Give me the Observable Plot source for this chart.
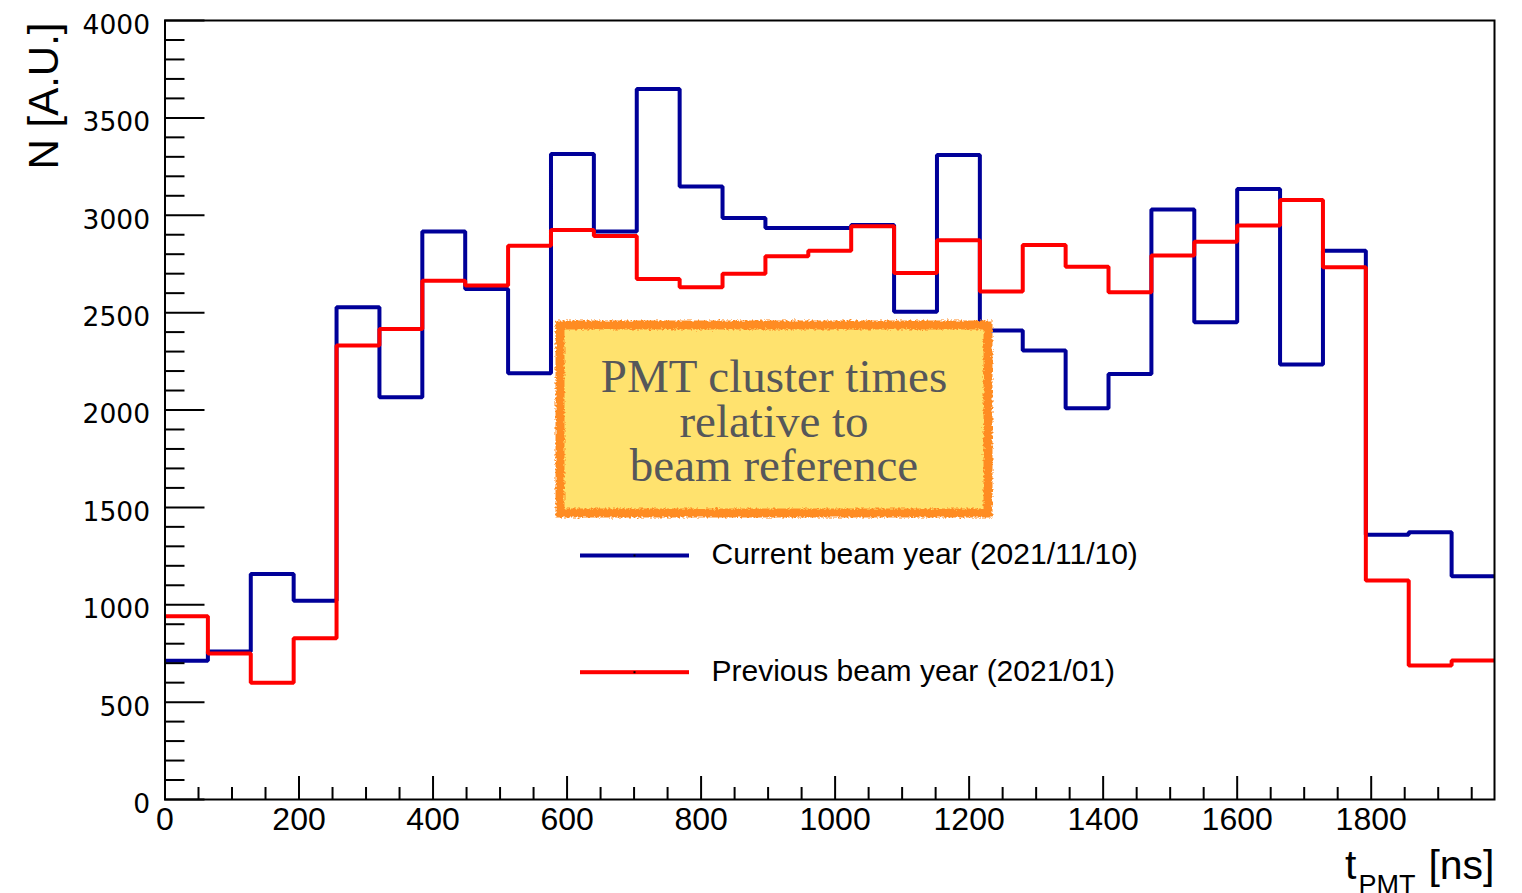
<!DOCTYPE html>
<html>
<head>
<meta charset="utf-8">
<script src="https://cdn.jsdelivr.net/npm/d3@7"></script>
<script src="https://cdn.jsdelivr.net/npm/@observablehq/plot@0.6"></script>
<style>
  html, body { margin: 0; padding: 0; background: #fff; }
  svg { display: block; }
</style>
</head>
<body>
<div id="chart"></div>
<script>
// ---------------- data ----------------
const binEdges = [0, 64, 128, 192, 256, 320, 384, 448, 512, 576, 640, 704, 768, 832, 896, 960,
  1024, 1088, 1152, 1216, 1280, 1344, 1408, 1472, 1536, 1600, 1664, 1728, 1792, 1856, 1920, 1984];

const currentCounts = [713, 760, 1158, 1021, 2527, 2065, 2917, 2621, 2189, 3315, 2916, 3648, 3148, 2986,
  2935, 2935, 2950, 2505, 3310, 2408, 2305, 2009, 2185, 3029, 2450, 3135, 2233, 2818, 1359, 1372, 1146];

const previousCounts = [941, 750, 599, 828, 2331, 2416, 2664, 2639, 2844, 2924, 2893, 2673, 2630, 2699,
  2789, 2818, 2943, 2703, 2871, 2608, 2847, 2736, 2604, 2793, 2864, 2947, 3078, 2733, 1124, 688, 714];

const seriesNames = ["Current beam year (2021/11/10)", "Previous beam year (2021/01)"];
const seriesColors = ["#000099", "#ff0000"];

const xTickValues = [0, 200, 400, 600, 800, 1000, 1200, 1400, 1600, 1800];
const xMinorTicks = [50, 100, 150, 250, 300, 350, 450, 500, 550, 650, 700, 750, 850, 900, 950,
  1050, 1100, 1150, 1250, 1300, 1350, 1450, 1500, 1550, 1650, 1700, 1750, 1850, 1900, 1950];
const yTickValues = [0, 500, 1000, 1500, 2000, 2500, 3000, 3500, 4000];
const yMinorTicks = [100, 200, 300, 400, 600, 700, 800, 900, 1100, 1200, 1300, 1400, 1600, 1700, 1800, 1900,
  2100, 2200, 2300, 2400, 2600, 2700, 2800, 2900, 3100, 3200, 3300, 3400, 3600, 3700, 3800, 3900];

const noteLines = ["PMT cluster times", "relative to", "beam reference"];
const yTitle = "N [A.U.]";
const xTitleMain = "t";
const xTitleSub = "PMT";
const xTitleUnit = "[ns]";

// ---------------- layout ----------------
const W = 1522, H = 893;
const mL = 164.5, mR = 28, mT = 20, mB = 94;
const plotW = W - mL - mR, plotH = H - mT - mB;

function stepRows(values) {
  const rows = values.map((v, i) => ({x: binEdges[i], v}));
  rows.push({x: binEdges[values.length], v: values[values.length - 1]});
  return rows;
}

const histStyle = {x: "x", y: "v", curve: "step-after", strokeWidth: 4, strokeLinejoin: "miter", strokeLinecap: "butt"};

// legend geometry (pixels)
const legendLineLeft = 579.5, legendLineRight = 688.5;
const legendCenters = [555, 671.7];
const legendTextX = 711;
const legendBaselineOffset = 8.3;

// note box geometry (pixels)
const boxL = 559.5, boxR = 987.5, boxT = 324.5, boxB = 512.5;
const noteCenterX = 773.5, noteFirstBaseline = 391.7, noteLineStep = 44.5;

const marks = [
  Plot.line(stepRows(currentCounts), {...histStyle, stroke: seriesColors[0]}),
  Plot.line(stepRows(previousCounts), {...histStyle, stroke: seriesColors[1]}),

  // note box
  Plot.frame({
    fill: "#ffe26e", stroke: "#ff8c22", strokeWidth: 9, ariaLabel: "note-box",
    insetLeft: boxL - mL, insetRight: (W - mR) - boxR, insetTop: boxT - mT, insetBottom: (H - mB) - boxB
  }),
  ...noteLines.map((t, i) => Plot.text([t], {
    text: d => d, frameAnchor: "top-left", textAnchor: "middle", lineAnchor: "bottom",
    dx: noteCenterX - mL, dy: noteFirstBaseline + i * noteLineStep - mT,
    fontSize: 47, fontFamily: "Liberation Serif, Times New Roman, serif", fill: "#56575a"
  })),

  // legend
  ...seriesNames.flatMap((name, i) => [
    Plot.frame({
      fill: seriesColors[i], stroke: "none",
      insetLeft: legendLineLeft - mL, insetRight: (W - mR) - legendLineRight,
      insetTop: legendCenters[i] - 2 - mT, insetBottom: (H - mB) - (legendCenters[i] + 2)
    }),
    Plot.frame({
      fill: "black", stroke: "none",
      insetLeft: 633 - mL, insetRight: (W - mR) - 635,
      insetTop: legendCenters[i] - 1 - mT, insetBottom: (H - mB) - (legendCenters[i] + 1)
    }),
    Plot.text([name], {
      text: d => d, frameAnchor: "top-left", textAnchor: "start", lineAnchor: "bottom",
      dx: legendTextX - mL, dy: legendCenters[i] + legendBaselineOffset - mT,
      fontSize: 30, fill: "black"
    })
  ]),

  // ticks (inside, ROOT style)
  Plot.tickY(yTickValues, {y: d => d, stroke: "black", strokeWidth: 2, insetRight: plotW - 40}),
  Plot.tickY(yMinorTicks, {y: d => d, stroke: "black", strokeWidth: 2, insetRight: plotW - 20}),
  Plot.tickX(xTickValues, {x: d => d, stroke: "black", strokeWidth: 2, insetTop: plotH - 23}),
  Plot.tickX(xMinorTicks, {x: d => d, stroke: "black", strokeWidth: 2, insetTop: plotH - 12}),
  Plot.frame({stroke: "black", strokeWidth: 2}),

  // tick labels
  Plot.axisX(xTickValues, {tickSize: 0, tickPadding: 8, fontSize: 32, label: null, tickFormat: d => `${d}`}),
  Plot.axisY(yTickValues, {tickSize: 0, tickPadding: 15, fontSize: 26.5, fontFamily: "DejaVu Sans, sans-serif",
    dy: 5, label: null, tickFormat: d => `${d}`}),

  // axis titles
  Plot.text([yTitle], {
    text: d => d, frameAnchor: "top-left", rotate: -90, textAnchor: "end", lineAnchor: "bottom",
    dx: 57 - mL, dy: 2, fontSize: 42, fill: "black"
  }),
  Plot.text([xTitleMain], {
    text: d => d, frameAnchor: "bottom-right", textAnchor: "start", lineAnchor: "bottom",
    dx: 1344.5 - (W - mR), dy: 878 - (H - mB), fontSize: 41, fill: "black"
  }),
  Plot.text([xTitleSub], {
    text: d => d, frameAnchor: "bottom-right", textAnchor: "start", lineAnchor: "bottom",
    dx: 1358 - (W - mR), dy: 893 - (H - mB), fontSize: 27, fill: "black"
  }),
  Plot.text([xTitleUnit], {
    text: d => d, frameAnchor: "bottom-right", textAnchor: "end", lineAnchor: "bottom",
    dx: 0, dy: 878 - (H - mB), fontSize: 41, fill: "black"
  })
];

const chart = Plot.plot({
  width: W, height: H,
  marginLeft: mL, marginRight: mR, marginTop: mT, marginBottom: mB,
  x: {type: "linear", domain: [binEdges[0], binEdges[binEdges.length - 1]]},
  y: {type: "linear", domain: [yTickValues[0], yTickValues[yTickValues.length - 1]]},
  style: {fontFamily: "Liberation Sans, Arial, Helvetica, sans-serif", background: "white", color: "black", overflow: "visible"},
  marks
});

// rough, hand-drawn border for the note box
const svg = d3.select(chart);
const defs = svg.insert("defs", ":first-child");
const f = defs.append("filter").attr("id", "rough")
  .attr("x", "-5%").attr("y", "-10%").attr("width", "110%").attr("height", "120%");
f.append("feTurbulence").attr("type", "fractalNoise").attr("baseFrequency", "0.45")
  .attr("numOctaves", 2).attr("seed", 3).attr("result", "noise");
f.append("feDisplacementMap").attr("in", "SourceGraphic").attr("in2", "noise").attr("scale", 5)
  .attr("xChannelSelector", "R").attr("yChannelSelector", "G");
svg.selectAll('[aria-label="note-box"]').attr("filter", "url(#rough)");

document.getElementById("chart").appendChild(chart);
</script>
</body>
</html>
